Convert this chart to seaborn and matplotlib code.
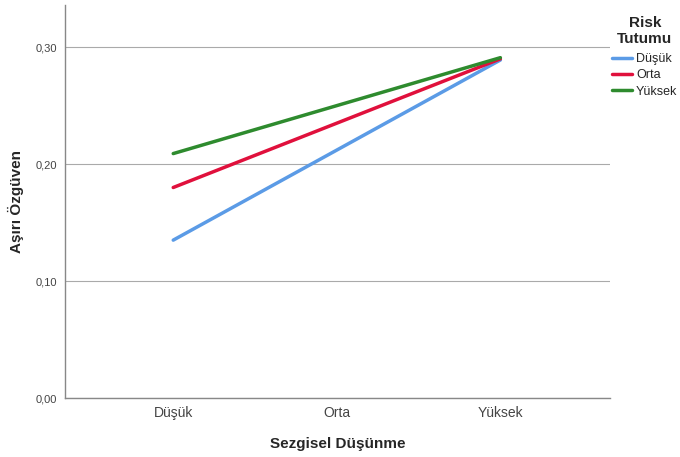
import pandas as pd
import seaborn as sns
import matplotlib
matplotlib.use("Agg")
import matplotlib.pyplot as plt

categories = ['Düşük', 'Orta', 'Yüksek']
x_points = ['Düşük', 'Yüksek']
groups = ['Düşük', 'Orta', 'Yüksek']
dusuk_vals = [0.135, 0.289]
orta_vals = [0.180, 0.290]
yuksek_vals = [0.209, 0.291]
yticks = [0.0, 0.1, 0.2, 0.3]
ytick_labels = ['0,00', '0,10', '0,20', '0,30']

rows = []
for g, vals in zip(groups, [dusuk_vals, orta_vals, yuksek_vals]):
    for xc, v in zip(x_points, vals):
        rows.append({'Sezgisel': categories.index(xc), 'Deger': v, 'Risk': g})
df = pd.DataFrame(rows)

sns.set_theme(style='white')
plt.rcParams['font.family'] = ['Liberation Sans', 'DejaVu Sans']

fig = plt.figure(figsize=(6.8, 4.57), dpi=100)
ax = fig.add_axes([0.096, 0.129, 0.801, 0.86])

palette = {'Düşük': '#5B9BE6', 'Orta': '#E0103C', 'Yüksek': '#2E8B2E'}
sns.lineplot(data=df, x='Sezgisel', y='Deger', hue='Risk', palette=palette,
             hue_order=groups, linewidth=2.5, ax=ax, legend=True)

ax.set_xlim(-0.66, 2.67)
ax.set_ylim(0, 0.336)
ax.set_xticks(range(len(categories)))
ax.set_xticklabels(categories, fontsize=10, color='#444444')
ax.set_yticks(yticks)
ax.set_yticklabels(ytick_labels, fontsize=8, color='#444444')
ax.yaxis.grid(True, color='#aaaaaa', linewidth=0.8)
ax.set_axisbelow(True)
ax.tick_params(axis='both', length=0, pad=6)
for s in ['top', 'right']:
    ax.spines[s].set_visible(False)
for s in ['left', 'bottom']:
    ax.spines[s].set_color('#888888')
    ax.spines[s].set_linewidth(1)

ax.set_xlabel('Sezgisel Düşünme', fontsize=11, fontweight='bold', labelpad=12)
ax.set_ylabel('Aşırı Özgüven', fontsize=11, fontweight='bold', labelpad=8)

leg = ax.legend(title='Risk\nTutumu', loc='upper left', bbox_to_anchor=(0.995, 0.985),
                frameon=False, fontsize=9, handlelength=1.6, handletextpad=0.3,
                labelspacing=0.35, borderaxespad=0)
leg.get_title().set_fontweight('bold')
leg.get_title().set_fontsize(11)
leg.get_title().set_multialignment('center')
leg._legend_box.sep = 5

fig.savefig('out.png', dpi=100)
